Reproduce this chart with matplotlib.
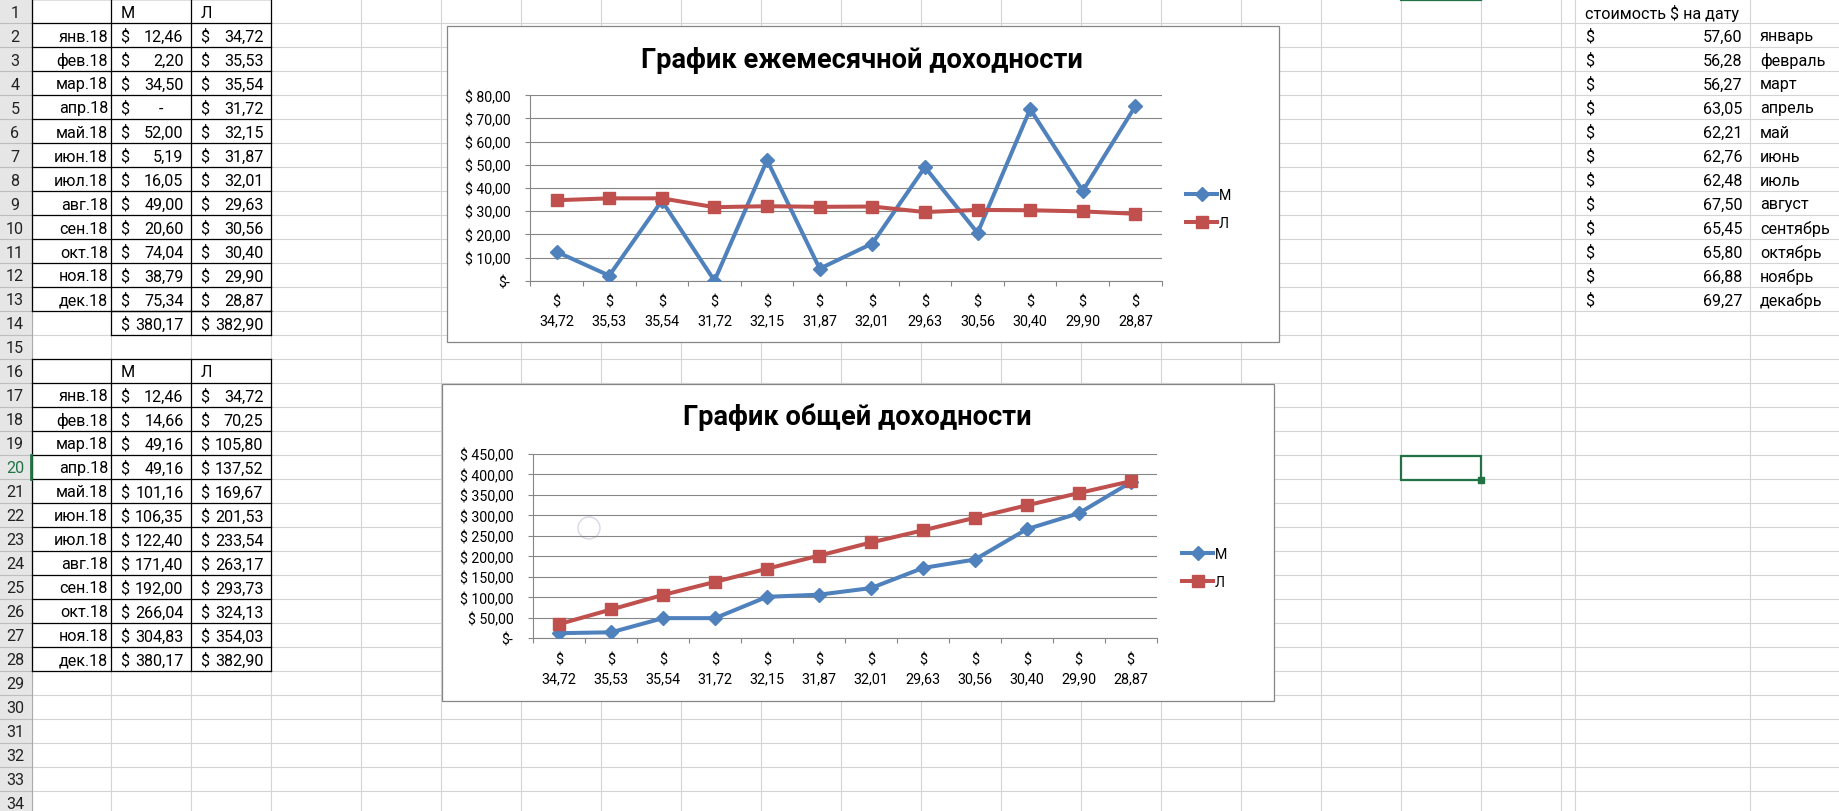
import numpy as np
import matplotlib
matplotlib.use("Agg")
import matplotlib.pyplot as plt
from matplotlib.patches import Rectangle, Circle

FONT = ["Roboto", "DejaVu Sans"]
plt.rcParams["font.family"] = FONT

# --- data ---
months_short = ["янв.18", "фев.18", "мар.18", "апр.18", "май.18", "июн.18",
                "июл.18", "авг.18", "сен.18", "окт.18", "ноя.18", "дек.18"]
series_names = ["М", "Л"]
monthly_m = [12.46, 2.20, 34.50, 0.00, 52.00, 5.19, 16.05, 49.00, 20.60, 74.04, 38.79, 75.34]
monthly_l = [34.72, 35.53, 35.54, 31.72, 32.15, 31.87, 32.01, 29.63, 30.56, 30.40, 29.90, 28.87]
total_m, total_l = 380.17, 382.90
cum_m = [12.46, 14.66, 49.16, 49.16, 101.16, 106.35, 122.40, 171.40, 192.00, 266.04, 304.83, 380.17]
cum_l = [34.72, 70.25, 105.80, 137.52, 169.67, 201.53, 233.54, 263.17, 293.73, 324.13, 354.03, 382.90]
price_header = "стоимость $ на дату"
prices = [57.60, 56.28, 56.27, 63.05, 62.21, 62.76, 62.48, 67.50, 65.45, 65.80, 66.88, 69.27]
months_full = ["январь", "февраль", "март", "апрель", "май", "июнь",
               "июль", "август", "сентябрь", "октябрь", "ноябрь", "декабрь"]
# category labels of both charts = Л monthly values
categories = monthly_l

W, H = 1840, 812
BLUE, RED = "#4F81BD", "#C0504D"
GRID = "#D4D4D4"
AXG = "#868686"
CELL_FS = 11.6

fig = plt.figure(figsize=(W / 100, H / 100), dpi=100)
base = fig.add_axes([0, 0, 1, 1])
base.set_xlim(0, W)
base.set_ylim(H, 0)
base.axis("off")

# sheet grid
col_edges = [32, 111.5, 191.5, 271.5, 361.2, 441.5, 521.4, 601.2, 681.1, 761.4,
             841.3, 921.2, 1001.4, 1081.3, 1161.2, 1241.4, 1321.4, 1401.4,
             1481.4, 1561.5, 1575, 1750]
ROW = 24
for x in col_edges[1:]:
    base.plot([x, x], [0, H], color=GRID, lw=0.8, zorder=1)
for r in range(1, 35):
    base.plot([32, W], [r * ROW, r * ROW], color=GRID, lw=0.8, zorder=1)

# row header
base.add_patch(Rectangle((0, 0), 32, H, color="#E6E6E6", zorder=1))
for r in range(1, 35):
    base.plot([0, 32], [r * ROW, r * ROW], color="#BDBDBD", lw=0.8, zorder=2)
    c = "#217346" if r == 20 else "#222222"
    base.text(15, (r - 0.5) * ROW + 1, str(r), ha="center", va="center",
              fontsize=CELL_FS, color=c, zorder=3)
base.plot([32, 32], [0, H], color="#ABABAB", lw=0.8, zorder=2)
base.plot([31, 31], [19 * ROW, 20 * ROW], color="#217346", lw=2, zorder=3)
base.plot([1401.4, 1481.4], [0.8, 0.8], color="#217346", lw=1.6, zorder=3)


def money(v):
    return f"{v:.2f}".replace(".", ",")


def cell_money(x0, x1, y, v):
    base.text(x0 + 9, y, "$", ha="left", va="center", fontsize=CELL_FS, zorder=3)
    if v == 0:
        base.text(x1 - 30, y, "-", ha="center", va="center", fontsize=CELL_FS, zorder=3)
    else:
        base.text(x1 - 8, y, money(v), ha="right", va="center", fontsize=CELL_FS, zorder=3)


def borders(c0, c1, r0, r1):
    xs = col_edges[c0:c1 + 1]
    for x in xs:
        base.plot([x, x], [(r0 - 1) * ROW, r1 * ROW], color="black", lw=0.9, zorder=2)
    for r in range(r0 - 1, r1 + 1):
        base.plot([xs[0], xs[-1]], [r * ROW, r * ROW], color="black", lw=0.9, zorder=2)


def block(first_row, vals_m, vals_l):
    yc = (first_row - 0.5) * ROW + 1
    base.text(121, yc, series_names[0], ha="left", va="center", fontsize=CELL_FS, zorder=3)
    base.text(201, yc, series_names[1], ha="left", va="center", fontsize=CELL_FS, zorder=3)
    for i, (lab, a, b) in enumerate(zip(months_short, vals_m, vals_l)):
        y = (first_row + i + 0.5) * ROW + 1
        base.text(108, y, lab, ha="right", va="center", fontsize=CELL_FS, zorder=3)
        cell_money(111.5, 191.5, y, a)
        cell_money(191.5, 271.5, y, b)


block(1, monthly_m, monthly_l)
borders(0, 3, 1, 13)
borders(1, 3, 14, 14)
y14 = 13.5 * ROW + 1
for x0, v in [(111.5, total_m), (191.5, total_l)]:
    base.text(x0 + 9, y14, "$", ha="left", va="center", fontsize=CELL_FS, zorder=3)
    base.text(x0 + 72, y14, money(v), ha="right", va="center", fontsize=CELL_FS, zorder=3)

block(16, cum_m, cum_l)
borders(0, 3, 16, 28)

# price table on the right
base.text(1585, 0.5 * ROW + 1, price_header, ha="left", va="center", fontsize=CELL_FS, zorder=3)
for i, (p, mname) in enumerate(zip(prices, months_full)):
    y = (i + 1.5) * ROW + 1
    base.text(1585, y, "$", ha="left", va="center", fontsize=CELL_FS, zorder=3)
    base.text(1742.5, y, money(p), ha="right", va="center", fontsize=CELL_FS, zorder=3)
    base.text(1760, y, mname, ha="left", va="center", fontsize=CELL_FS, zorder=3)

# selected cell
base.add_patch(Rectangle((1401, 456.5), 80.5, 24, fill=False, ec="#217346", lw=1.6, zorder=4))
base.add_patch(Rectangle((1478, 477.5), 6, 6, color="#217346", zorder=5))


def ylab(v):
    return "$-" if v == 0 else "$ " + money(v)


def chart(box, plot, ymax, ystep, m_vals, l_vals, title, title_xy, leg_xy):
    bx0, by0, bx1, by1 = box
    base.add_patch(Rectangle((bx0, by0), bx1 - bx0, by1 - by0, fc="white",
                             ec=AXG, lw=0.9, zorder=6))
    px0, py0, px1, py1 = plot
    ax = fig.add_axes([px0 / W, 1 - py1 / H, (px1 - px0) / W, (py1 - py0) / H])
    ax.set_facecolor("none")
    x = np.arange(len(categories))
    l1, = ax.plot(x, m_vals, color=BLUE, lw=2.9, marker="D", ms=7.5, zorder=3)
    l2, = ax.plot(x, l_vals, color=RED, lw=2.9, marker="s", ms=8, zorder=4)
    ax.set_xlim(-0.5, len(categories) - 0.5)
    ax.set_ylim(0, ymax)
    yt = np.arange(0, ymax + 1, ystep)
    ax.set_yticks(yt)
    ax.set_yticklabels([ylab(v) for v in yt])
    ax.yaxis.grid(True, color=AXG, lw=0.8)
    ax.set_axisbelow(True)
    ax.set_xticks(x)
    ax.set_xticklabels(["$\n" + money(c) for c in categories], linespacing=1.45)
    ax.set_xticks(np.arange(-0.5, len(categories)), minor=True)
    ax.tick_params(axis="x", which="major", length=0, pad=10, labelsize=10.4)
    ax.tick_params(axis="x", which="minor", length=3.8, width=0.8, color=AXG)
    ax.tick_params(axis="y", length=3.8, width=0.8, color=AXG, pad=10.5, labelsize=10.2)
    for s in ["top", "right"]:
        ax.spines[s].set_visible(False)
    for s in ["left", "bottom"]:
        ax.spines[s].set_color(AXG)
        ax.spines[s].set_linewidth(0.8)
    fig.text(title_xy[0] / W, 1 - title_xy[1] / H, title, ha="center", va="center",
             fontsize=19.6, fontweight="bold")
    fig.legend([l1, l2], series_names, loc="center left", frameon=False,
               bbox_to_anchor=(leg_xy[0] / W, 1 - leg_xy[1] / H), fontsize=10.2,
               handlelength=2.2, handletextpad=0.1, labelspacing=1.0, borderpad=0,
               borderaxespad=0)
    return ax


chart((446.7, 26.7, 1279, 343.3), (530.3, 96.3, 1161.7, 281.7), 80, 10,
      monthly_m, monthly_l, "График ежемесячной доходности", (862, 60), (1186, 210))
chart((441.7, 384.7, 1274.3, 702.3), (533.3, 454.7, 1156.7, 639.3), 450, 50,
      cum_m, cum_l, "График общей доходности", (857, 417), (1182, 569))

# cursor ring left on the screenshot
base.add_patch(Circle((589, 529), 11, fill=False, ec="#D8D8E4", lw=1, zorder=7))

fig.savefig("out.png", dpi=100)
